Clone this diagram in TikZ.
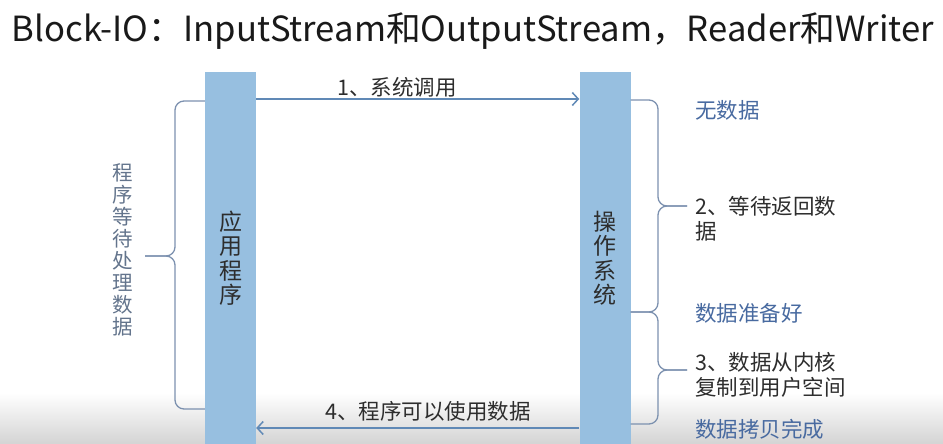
\documentclass[tikz,border=0pt]{standalone}
\usepackage{fontspec}
\setmainfont{Noto Sans CJK SC}
\usetikzlibrary{arrows.meta}

\definecolor{barblue}{RGB}{151,191,224}
\definecolor{arrowblue}{RGB}{96,137,182}
\definecolor{bracegray}{RGB}{124,145,175}
\definecolor{labelblue}{RGB}{72,106,160}
\definecolor{textgray}{RGB}{45,45,45}

\tikzset{
  bar/.style={fill=barblue, minimum width=51pt, minimum height=372pt,
    inner sep=0pt, align=center, text=textgray,
    font=\fontsize{23}{24.5}\selectfont},
  flow/.style={draw=arrowblue, line width=1.5pt,
    -{Straight Barb[length=6pt,width=13pt]}},
  brace/.style={draw=bracegray, line width=1.3pt, rounded corners=9pt},
  msg/.style={text=textgray, inner sep=0pt,
    font=\fontsize{21.5}{25}\selectfont},
  state/.style={anchor=west, text=labelblue, inner sep=0pt,
    font=\fontsize{21.5}{25}\selectfont},
  stepnote/.style={anchor=west, text=textgray, inner sep=0pt, align=left,
    font=\fontsize{21.5}{25}\selectfont},
}

\begin{document}
\begin{tikzpicture}[x=1pt,y=-1pt]

\useasboundingbox (0,0) rectangle (943,444);

\shade[top color=white,bottom color=black!17]
(0,393) rectangle (943,444);

\node[text=black!90,inner sep=0pt,font=\fontsize{36}{40}\selectfont] (title) at (473,31)
{\resizebox{922pt}{!}{Block-IO：InputStream和OutputStream，Reader和Writer}};

\node[bar] (app) at (230.5,258)
{应\\用\\程\\序};

\node[bar] (os) at (605,258)
{操\\作\\系\\统};

\coordinate (call) at (0,99);
\coordinate (back) at (0,428);

\draw[flow]
(app.east |- call)
--
(os.west |- call);
\node[msg] (calltext) at (397,87)
{1、系统调用};

\draw[flow]
(os.west |- back)
--
(app.east |- back);
\node[msg] (backtext) at (428,411)
{4、程序可以使用数据};

% left brace
\draw[brace] (app.west |- 0,101) -- (175,101) -- (175,256) -- (145,256);
\draw[brace] (app.west |- 0,409) -- (175,409) -- (175,256) -- (145,256);
\node[text=bracegray!80!black,align=center,inner sep=0pt,
  font=\fontsize{20.5}{22}\selectfont] (waittext) at (123,250)
{程\\序\\等\\待\\处\\理\\数\\据};

% right braces
\draw[brace] (os.east |- 0,100) -- (658,100) -- (658,206) -- (687,206);
\draw[brace] (os.east |- 0,312) -- (658,312) -- (658,206) -- (687,206);
\draw[brace] (os.east |- 0,312) -- (658,312) -- (658,370) -- (687,370);
\draw[brace] (os.east |- 0,424) -- (658,424) -- (658,370) -- (687,370);

\node[state] (nodata) at (695,110)
{无数据};
\node[stepnote] (waitback) at (695,219)
{2、等待返回数\\据};
\node[state] (ready) at (695,313)
{数据准备好};
\node[stepnote] (copy) at (695,375)
{3、数据从内核\\复制到用户空间};
\node[state] (done) at (695,429)
{数据拷贝完成};

\end{tikzpicture}
\end{document}
